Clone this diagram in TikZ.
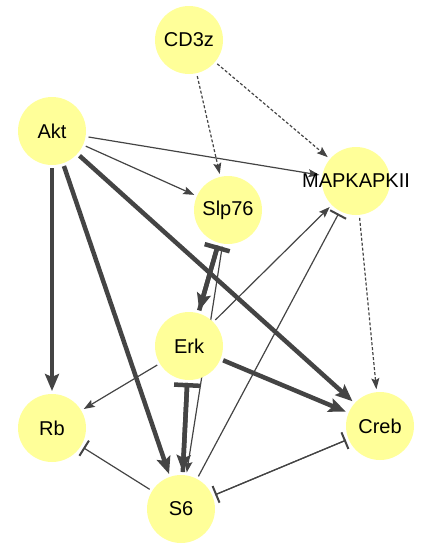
\documentclass[tikz,border=0pt]{standalone}
\usepackage{fontspec}
\setmainfont{Liberation Sans}
\usetikzlibrary{arrows.meta,backgrounds}
\definecolor{genefill}{HTML}{FFFF99}
\definecolor{edgegray}{HTML}{444444}
\begin{document}
\begin{tikzpicture}[
  x=1pt, y=-1pt,
  gene/.style={circle, fill=genefill, minimum size=68pt, inner sep=0pt, outer sep=3pt, font=\fontsize{20}{24}\selectfont},
  link/.style={draw=edgegray, line width=1.2pt},
  act/.style={link, -{Stealth[length=11pt, width=8pt, inset=2pt]}},
  bigact/.style={link, line width=4.5pt, -{Stealth[length=17pt, width=14pt, inset=3pt]}},
  inh/.style={link, -{Bar[width=18pt, line width=2pt]}},
  biginh/.style={link, line width=4.5pt, -{Bar[width=26pt, line width=4.5pt]}},
  indirect/.style={act, dash pattern=on 3pt off 2pt}
]
\useasboundingbox (0,0) rectangle (425,550);
\node[gene] (cd3z) at (189,40) {CD3z};
\node[gene] (akt) at (52,131) {Akt};
\node[gene] (slp76) at (228,210) {Slp76};
\node[gene] (mapk) at (356,181) {\makebox[0pt]{MAPKAPKII}};
\node[gene] (erk) at (189,346) {Erk};
\node[gene] (rb) at (52,428) {Rb};
\node[gene] (creb) at (380,426) {Creb};
\node[gene] (s6) at (181,509) {S6};
\begin{scope}[on background layer]
\draw[indirect] (cd3z) -- (slp76);
\draw[indirect] (cd3z) -- (mapk);
\draw[indirect] (mapk) -- (creb);
\draw[act] (akt) -- (slp76);
\draw[act] (akt) -- (mapk);
\draw[bigact] (akt) -- (rb);
\draw[bigact] (akt) -- (s6);
\draw[bigact] (akt) -- (creb);
\draw[bigact] (slp76) -- (erk);
\draw[biginh] (erk) -- (slp76);
\draw[act] (slp76) -- (s6);
\draw[bigact] (erk) -- (s6);
\draw[biginh] (s6) -- (erk);
\draw[act] (erk) -- (mapk);
\draw[act] (erk) -- (rb);
\draw[bigact] (erk) -- (creb);
\draw[inh] (s6) -- (mapk);
\draw[inh] (s6) -- (rb);
\draw[inh] (s6) -- (creb);
\draw[inh] (creb) -- (s6);
\end{scope}
\end{tikzpicture}
\end{document}
